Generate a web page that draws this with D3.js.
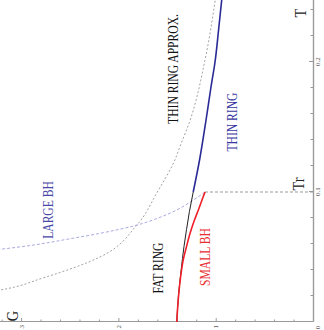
<!DOCTYPE html>
<html><head><meta charset="utf-8">
<script src="https://cdn.jsdelivr.net/npm/d3@7"></script>
<style>html,body{margin:0;padding:0;background:#fff;}svg{display:block;}</style>
</head><body>
<script>
// Data (T = temperature, G = free energy)
const smallBH_T = [0, 0.018, 0.035, 0.048, 0.058, 0.068, 0.078, 0.086, 0.094, 0.1];
const smallBH_G = [1.40, 1.384, 1.36, 1.333, 1.30, 1.264, 1.22, 1.179, 1.14, 1.11];
const fatRing_T = [0, 0.02, 0.04, 0.058, 0.071, 0.085, 0.1];
const fatRing_G = [1.40, 1.383, 1.355, 1.326, 1.30, 1.27, 1.231];
const thinRing_T = [0.1, 0.125, 0.155, 0.18, 0.2, 0.225, 0.25];
const thinRing_G = [1.231, 1.165, 1.10, 1.05, 1.007, 0.97, 0.935];
const thinApprox_T = [0.022, 0.0246, 0.034, 0.05, 0.0746, 0.1, 0.1246, 0.135, 0.155, 0.2015, 0.25];
const thinApprox_G = [3.45, 3.22, 2.77, 2.19, 1.81, 1.60, 1.42, 1.367, 1.264, 1.11, 1.0];
const largeBH_T = [0.0545, 0.0559, 0.0592, 0.0636, 0.0682, 0.0738, 0.0805, 0.0862, 0.0938, 0.1];
const largeBH_G = [3.40, 3.22, 2.875, 2.53, 2.19, 1.847, 1.573, 1.40, 1.23, 1.11];
const Tr = 0.1;
const Tr_G = 1.11;
const tMajor = [0.1, 0.2];
const tMinor = [0.02,0.04,0.06,0.08,0.12,0.14,0.16,0.18,0.22,0.24];
const gMajor = [1, 2, 3];
const gMinor = [0.2,0.4,0.6,0.8,1.2,1.4,1.6,1.8,2.2,2.4,2.6,2.8,3.2];

const W = 324, H = 330;
const svg = d3.select("body").append("svg").attr("width", W).attr("height", H);
// Chart drawn in an unrotated frame (width 330, height 324), then rotated -90deg
const g = svg.append("g").attr("transform", "translate(0,330) rotate(-90)");
const FW = 330, FH = 324;
const x = d3.scaleLinear().domain([0, 0.25]).range([8, 333]);
const y = d3.scaleLinear().domain([0, 3.25]).range([313, 313 - 3.25 * 97.3]);

g.append("defs").append("clipPath").attr("id", "clip")
  .append("rect").attr("x", 8).attr("y", -10).attr("width", FW).attr("height", 323);

const serif = "'Liberation Serif','DejaVu Serif',serif";
const axisColor = "#9a9a9a";

// T axis (horizontal in unrotated frame)
g.append("g").attr("transform", `translate(0,${y(0)})`)
  .call(d3.axisBottom(x).tickValues(tMajor).tickSizeInner(-4).tickSizeOuter(0).tickPadding(2).tickFormat(d3.format(".1f")));
g.append("g").attr("transform", `translate(0,${y(0)})`)
  .call(d3.axisBottom(x).tickValues(tMinor).tickSizeInner(-2.5).tickSizeOuter(0).tickFormat(""));
// G axis
g.append("g").attr("transform", `translate(${x(0)},0)`)
  .call(d3.axisLeft(y).tickValues(gMajor).tickSizeInner(-4).tickSizeOuter(0).tickPadding(3).tickFormat(d3.format("d")));
g.append("g").attr("transform", `translate(${x(0)},0)`)
  .call(d3.axisLeft(y).tickValues(gMinor).tickSizeInner(-2.5).tickSizeOuter(0).tickFormat(""));
g.selectAll(".domain").attr("stroke", axisColor).attr("stroke-width", 1.2);
g.selectAll(".tick line").attr("stroke", axisColor);
g.selectAll(".tick text").attr("font-family", serif).attr("font-size", 7).attr("fill", "#555");
g.append("text").attr("x", 2.5).attr("y", 318).attr("text-anchor", "middle").attr("dominant-baseline", "central")
  .attr("font-family", serif).attr("font-size", 7).attr("fill", "#555").text("0");

const line = d3.line().x(d => x(d[0])).y(d => y(d[1])).curve(d3.curveMonotoneX);
const zip = (a, b) => a.map((v, i) => [v, b[i]]);
const plot = g.append("g").attr("clip-path", "url(#clip)");

// Tr dashed
plot.append("line").attr("x1", x(Tr)).attr("x2", x(Tr)).attr("y1", y(Tr_G)).attr("y2", y(0))
  .attr("stroke", "#999").attr("stroke-width", 1).attr("stroke-dasharray", "3,2");
plot.append("path").attr("d", line(zip(thinApprox_T, thinApprox_G))).attr("fill", "none")
  .attr("stroke", "#8a8a8a").attr("stroke-width", 0.8).attr("stroke-dasharray", "2,2");
plot.append("path").attr("d", line(zip(largeBH_T, largeBH_G))).attr("fill", "none")
  .attr("stroke", "#a0a0dc").attr("stroke-width", 0.9).attr("stroke-dasharray", "3,2");
plot.append("path").attr("d", line(zip(fatRing_T, fatRing_G))).attr("fill", "none")
  .attr("stroke", "#222").attr("stroke-width", 1);
plot.append("path").attr("d", line(zip(smallBH_T, smallBH_G))).attr("fill", "none")
  .attr("stroke", "#f0202a").attr("stroke-width", 1.6);
plot.append("path").attr("d", line(zip(thinRing_T, thinRing_G))).attr("fill", "none")
  .attr("stroke", "#2a2a96").attr("stroke-width", 1.6);

function label(txt, sx, sy, size, color, sq) {
  // sx, sy: screen coordinates of text centre; sq: horizontal condensing along the text
  g.append("text").attr("transform", `translate(${330 - sy},${sx}) scale(${sq},1)`)
    .attr("text-anchor", "middle")
    .attr("dominant-baseline", "central").attr("font-family", serif).attr("font-size", size)
    .attr("fill", color).text(txt);
}
label("THIN RING APPROX.", 173, 69, 14.5, "#111", 0.8);
label("THIN RING", 232, 122, 14.5, "#3838a0", 0.8);
label("LARGE BH", 48, 210, 14.5, "#4848a8", 0.8);
label("FAT RING", 158, 268, 14.5, "#111", 0.8);
label("SMALL BH", 205, 257, 14.5, "#e83030", 0.8);
label("G", 12, 316, 16, "#222", 0.9);
label("T", 300, 13, 16, "#222", 0.9);
label("Tr", 298, 184, 16, "#222", 0.9);
</script>
</body></html>
